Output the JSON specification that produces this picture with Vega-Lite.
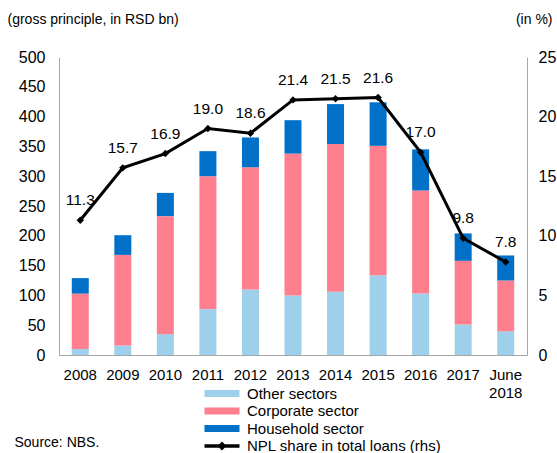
{
  "$schema": "https://vega.github.io/schema/vega-lite/v6.json",
  "width": 468,
  "height": 298,
  "autosize": {"type": "none"},
  "padding": {"left": 59, "top": 57, "right": 30, "bottom": 98},
  "config": {
    "font": "Liberation Sans",
    "view": {"stroke": null},
    "axis": {
      "domainColor": "#a6a6a6",
      "domainWidth": 1,
      "labelColor": "#000000",
      "labelFont": "Liberation Sans",
      "titleFont": "Liberation Sans",
      "titleColor": "#000000",
      "titleFontWeight": "normal",
      "grid": false,
      "ticks": false
    }
  },
  "datasets": {
    "bars": [
      {"year": "2008", "sector": "Other sectors", "rank": 1, "value": 10},
      {"year": "2008", "sector": "Corporate sector", "rank": 2, "value": 93},
      {"year": "2008", "sector": "Household sector", "rank": 3, "value": 26},
      {"year": "2009", "sector": "Other sectors", "rank": 1, "value": 16},
      {"year": "2009", "sector": "Corporate sector", "rank": 2, "value": 152},
      {"year": "2009", "sector": "Household sector", "rank": 3, "value": 33},
      {"year": "2010", "sector": "Other sectors", "rank": 1, "value": 35},
      {"year": "2010", "sector": "Corporate sector", "rank": 2, "value": 198},
      {"year": "2010", "sector": "Household sector", "rank": 3, "value": 39},
      {"year": "2011", "sector": "Other sectors", "rank": 1, "value": 77},
      {"year": "2011", "sector": "Corporate sector", "rank": 2, "value": 223},
      {"year": "2011", "sector": "Household sector", "rank": 3, "value": 42},
      {"year": "2012", "sector": "Other sectors", "rank": 1, "value": 110},
      {"year": "2012", "sector": "Corporate sector", "rank": 2, "value": 205},
      {"year": "2012", "sector": "Household sector", "rank": 3, "value": 50},
      {"year": "2013", "sector": "Other sectors", "rank": 1, "value": 100},
      {"year": "2013", "sector": "Corporate sector", "rank": 2, "value": 238},
      {"year": "2013", "sector": "Household sector", "rank": 3, "value": 56},
      {"year": "2014", "sector": "Other sectors", "rank": 1, "value": 106},
      {"year": "2014", "sector": "Corporate sector", "rank": 2, "value": 248},
      {"year": "2014", "sector": "Household sector", "rank": 3, "value": 67},
      {"year": "2015", "sector": "Other sectors", "rank": 1, "value": 134},
      {"year": "2015", "sector": "Corporate sector", "rank": 2, "value": 217},
      {"year": "2015", "sector": "Household sector", "rank": 3, "value": 73},
      {"year": "2016", "sector": "Other sectors", "rank": 1, "value": 103},
      {"year": "2016", "sector": "Corporate sector", "rank": 2, "value": 173},
      {"year": "2016", "sector": "Household sector", "rank": 3, "value": 69},
      {"year": "2017", "sector": "Other sectors", "rank": 1, "value": 51},
      {"year": "2017", "sector": "Corporate sector", "rank": 2, "value": 107},
      {"year": "2017", "sector": "Household sector", "rank": 3, "value": 46},
      {"year": "June 2018", "sector": "Other sectors", "rank": 1, "value": 40},
      {"year": "June 2018", "sector": "Corporate sector", "rank": 2, "value": 85},
      {"year": "June 2018", "sector": "Household sector", "rank": 3, "value": 42}
    ],
    "npl": [
      {"year": "2008", "npl": 11.3},
      {"year": "2009", "npl": 15.7},
      {"year": "2010", "npl": 16.9},
      {"year": "2011", "npl": 19.0},
      {"year": "2012", "npl": 18.6},
      {"year": "2013", "npl": 21.4},
      {"year": "2014", "npl": 21.5},
      {"year": "2015", "npl": 21.6},
      {"year": "2016", "npl": 17.0},
      {"year": "2017", "npl": 9.8},
      {"year": "June 2018", "npl": 7.8}
    ]
  },
  "layer": [
    {
      "data": {"name": "bars"},
      "mark": {"type": "bar", "width": 17},
      "encoding": {
        "x": {
          "field": "year",
          "type": "nominal",
          "scale": {
            "domain": ["2008", "2009", "2010", "2011", "2012", "2013", "2014", "2015", "2016", "2017", "June 2018"],
            "paddingInner": 0.6,
            "paddingOuter": 0.3
          },
          "axis": {
            "labelAngle": 0,
            "labelFontSize": 15,
            "labelPadding": 12,
            "labelLineHeight": 18,
            "labelExpr": "split(datum.label, ' ')",
            "title": "Source: NBS.",
            "titleFontSize": 14,
            "titleAlign": "left",
            "titleAnchor": "start",
            "titleBaseline": "middle",
            "titleX": -45,
            "titleY": 87
          }
        },
        "y": {
          "field": "value",
          "type": "quantitative",
          "stack": "zero",
          "scale": {"domain": [0, 500], "nice": false},
          "axis": {
            "values": [0, 50, 100, 150, 200, 250, 300, 350, 400, 450, 500],
            "labelFontSize": 16,
            "labelPadding": 14,
            "title": "(gross principle, in RSD bn)",
            "titleFontSize": 14,
            "titleAngle": 0,
            "titleAlign": "left",
            "titleAnchor": "start",
            "titleBaseline": "middle",
            "titleX": -52,
            "titleY": -38
          }
        },
        "color": {
          "field": "sector",
          "type": "nominal",
          "scale": {
            "domain": ["Other sectors", "Corporate sector", "Household sector", "NPL share in total loans (rhs)"],
            "range": ["#9ecfeb", "#ff7f8e", "#0070c8", "#000000"]
          },
          "legend": {
            "title": null,
            "orient": "none",
            "legendX": 155.5,
            "legendY": 329,
            "padding": 0,
            "labelFontSize": 15,
            "labelFont": "Liberation Sans",
            "labelColor": "#000000",
            "labelOffset": 17.5,
            "labelLimit": 400,
            "rowPadding": 1.5,
            "symbolSize": 100,
            "symbolStrokeWidth": 0,
            "encode": {
              "symbols": {
                "update": {
                  "shape": {"signal": "datum.value === 'NPL share in total loans (rhs)' ? 'M-3.5,-0.34H3.5V0.34H-3.5Z M-0.9,0L0,-0.9L0.9,0L0,0.9Z' : 'M-3.5,-0.72H3.5V0.72H-3.5Z'"},
                  "fill": {"scale": "color", "field": "value"},
                  "strokeWidth": {"value": 0}
                }
              }
            }
          }
        },
        "order": {"field": "rank", "type": "quantitative"}
      }
    },
    {
      "data": {"name": "npl"},
      "encoding": {
        "x": {"field": "year", "type": "nominal"},
        "y": {
          "field": "npl",
          "type": "quantitative",
          "scale": {"domain": [0, 25], "nice": false},
          "axis": {
            "orient": "right",
            "values": [0, 5, 10, 15, 20, 25],
            "labelFontSize": 16,
            "labelPadding": 11,
            "title": "(in %)",
            "titleFontSize": 14,
            "titleAngle": 0,
            "titleAlign": "right",
            "titleAnchor": "start",
            "titleBaseline": "middle",
            "titleX": 25,
            "titleY": -38
          }
        }
      },
      "layer": [
        {"mark": {"type": "line", "color": "#000000", "strokeWidth": 3}},
        {"mark": {"type": "point", "shape": "diamond", "filled": true, "color": "#000000", "size": 55, "opacity": 1}},
        {
          "mark": {"type": "text", "dy": -20, "fontSize": 15.5, "color": "#000000", "font": "Liberation Sans"},
          "encoding": {"text": {"field": "npl", "type": "quantitative", "format": ".1f"}}
        }
      ]
    }
  ],
  "resolve": {"scale": {"y": "independent"}}
}
